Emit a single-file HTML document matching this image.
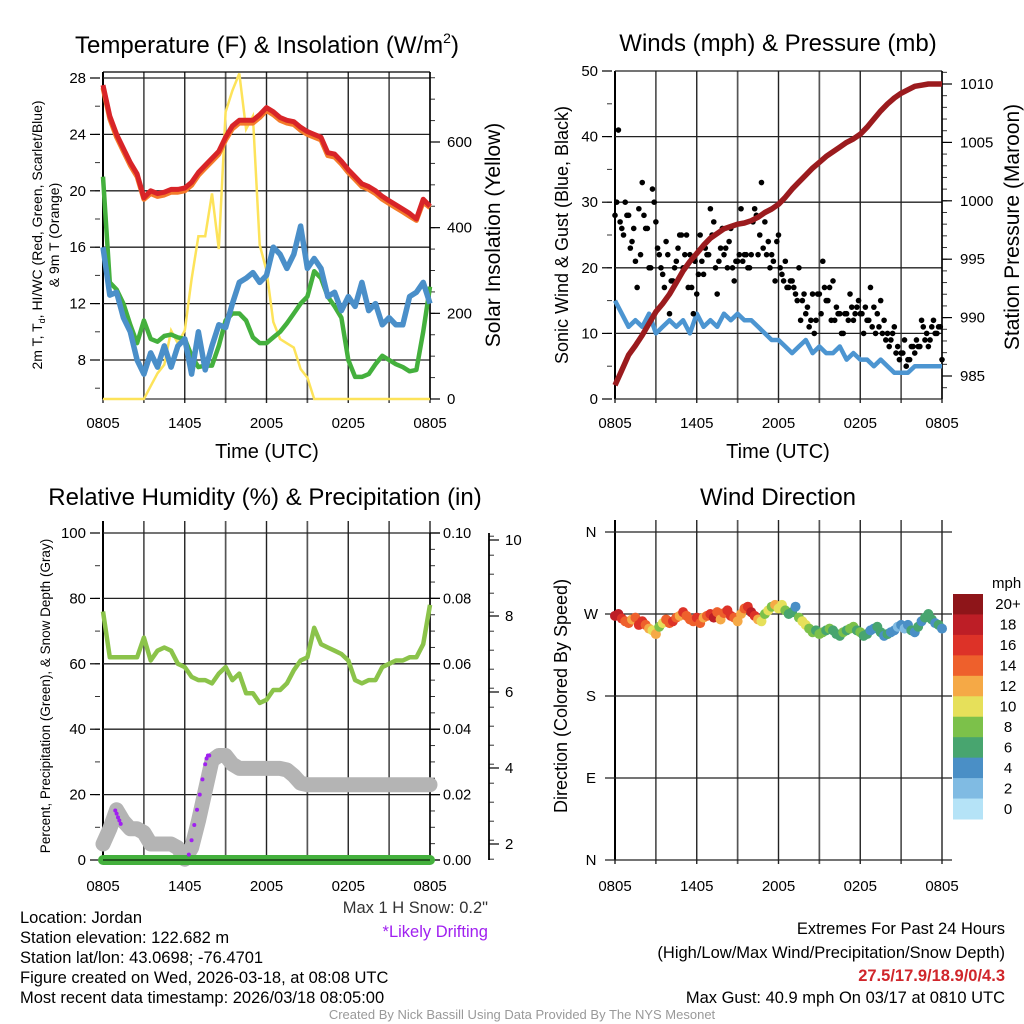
<!DOCTYPE html>
<html><head><meta charset="utf-8"><style>
html,body{margin:0;padding:0;background:#fff;}
svg{display:block;font-family:"Liberation Sans",Arial,sans-serif;}
</style></head><body>
<svg id="fig" width="1024" height="1024" viewBox="0 0 1024 1024" xmlns="http://www.w3.org/2000/svg">
<rect width="1024" height="1024" fill="#fff"/>
<g id="layer"></g>
<!-- titles -->
<text x="267" y="53" font-size="24" text-anchor="middle">Temperature (F) &amp; Insolation (W/m<tspan font-size="14" dy="-10">2</tspan><tspan dy="10">)</tspan></text>
<text x="778" y="51" font-size="24" text-anchor="middle">Winds (mph) &amp; Pressure (mb)</text>
<text x="265" y="505" font-size="24" text-anchor="middle">Relative Humidity (%) &amp; Precipitation (in)</text>
<text x="778" y="505" font-size="24" text-anchor="middle">Wind Direction</text>
<text x="267" y="458" font-size="20" text-anchor="middle">Time (UTC)</text>
<text x="778" y="458" font-size="20" text-anchor="middle">Time (UTC)</text>
<!-- y axis titles -->
<text transform="translate(42,235) rotate(-90)" font-size="14" text-anchor="middle">2m T, T<tspan font-size="9" dy="3">d</tspan><tspan dy="-3">, HI/WC (Red, Green, Scarlet/Blue)</tspan></text>
<text transform="translate(59,235) rotate(-90)" font-size="14" text-anchor="middle">&amp; 9m T (Orange)</text>
<text transform="translate(500,235) rotate(-90)" font-size="21" text-anchor="middle">Solar Insolation (Yellow)</text>
<text transform="translate(568,235) rotate(-90)" font-size="18" text-anchor="middle">Sonic Wind &amp; Gust (Blue, Black)</text>
<text transform="translate(1019,227) rotate(-90)" font-size="21" text-anchor="middle">Station Pressure (Maroon)</text>
<text transform="translate(50,696) rotate(-90)" font-size="13.5" text-anchor="middle">Percent, Precipitation (Green), &amp; Snow Depth (Gray)</text>
<text transform="translate(567,696) rotate(-90)" font-size="18" text-anchor="middle">Direction (Colored By Speed)</text>
<!-- bottom text -->
<g font-size="16.5">
<text x="488" y="913" text-anchor="end" fill="#333">Max 1 H Snow: 0.2"</text>
<text x="488" y="937" text-anchor="end" fill="#a020f0">*Likely Drifting</text>
<text x="20" y="923">Location: Jordan</text>
<text x="20" y="943">Station elevation: 122.682 m</text>
<text x="20" y="963">Station lat/lon: 43.0698; -76.4701</text>
<text x="20" y="983">Figure created on Wed, 2026-03-18, at 08:08 UTC</text>
<text x="20" y="1003">Most recent data timestamp: 2026/03/18 08:05:00</text>
<text x="1005" y="934" text-anchor="end">Extremes For Past 24 Hours</text>
<text x="1005" y="958" text-anchor="end">(High/Low/Max Wind/Precipitation/Snow Depth)</text>
<text x="1005" y="981" text-anchor="end" fill="#d0262b" font-weight="bold">27.5/17.9/18.9/0/4.3</text>
<text x="1005" y="1003" text-anchor="end">Max Gust: 40.9 mph On 03/17 at 0810 UTC</text>
</g>
<text x="522" y="1019" font-size="13" text-anchor="middle" fill="#999">Created By Nick Bassill Using Data Provided By The NYS Mesonet</text>
</svg>
<script>
// ---- data (half-hourly unless noted) ----
const timeLabels=["0805","1405","2005","0205","0805"];
const tempRed=[27.5,25.3,24,23,22,21.2,19.5,20,19.8,19.9,20.1,20.1,20.2,20.6,21.3,21.8,22.3,22.8,23.8,24.6,25,25,25,25.4,25.9,25.6,25.2,25,24.9,24.5,24.2,24,23.8,22.7,22.6,22.1,21.5,21,20.5,20.3,20,19.6,19.3,19,18.7,18.4,18,19.4,18.9];
const tempOrange=[27.3,25.1,23.8,22.8,21.8,21,19.4,19.8,19.6,19.7,19.9,19.9,20,20.4,21.1,21.6,22.1,22.6,23.6,24.4,24.8,24.8,24.8,25.2,25.7,25.4,25,24.8,24.7,24.3,24,23.8,23.6,22.5,22.4,21.9,21.3,20.8,20.3,20.1,19.8,19.4,19.1,18.8,18.5,18.2,17.9,19.2,18.8];
const wcBlue=[16,12.6,12.8,11,10,8,7,8.5,7.5,9,7.5,9,9.5,7,10,7.3,9,10.5,10.3,12,13.5,13.8,14.2,13.5,14,16,15.5,14.5,15.5,17.5,14.5,15.2,14.5,12.5,12.8,11.5,12.5,11.8,13.5,11.5,12,10.5,11,10.5,10.5,12.5,12.8,13.5,12];
const dewGreen=[21,13.5,13,12,10.5,9.2,10.8,9.5,9.3,9.7,9.8,9.6,9.5,8.3,7.5,7.6,7.6,9,10.8,11.3,11.3,10.8,9.6,9.2,9.2,9.6,10,10.6,11.3,12,12.5,14.3,13.8,12.5,11.8,11,8,6.8,6.8,7,7.7,8.3,8,7.7,7.5,7.2,7.3,10,13.2];
const solar=[0,0,0,0,0,0,0,30,60,80,160,130,160,280,380,380,480,350,670,720,760,630,660,360,300,180,140,130,120,70,50,0,0,0,0,0,0,0,0,0,0,0,0,0,0,0,0,0,0];
const windBlue=[15,13,11,12,11,13,10,11,12,11,12,10,13,11,12,11,13,12,13,12,12,11,10,9,9,8,7,8,9,7,8,7,7,8,6,7,6,6,5,6,5,4,4,4,5,5,5,5,5];
const pressure=[984.2,985.5,986.8,987.6,988.5,989.5,990.5,991.2,992,993,994,994.8,995.5,996.2,996.8,997.2,997.6,997.8,998,998.1,998.3,998.6,999,999.3,999.7,1000.3,1001,1001.6,1002.2,1002.8,1003.3,1003.8,1004.2,1004.6,1005,1005.3,1005.7,1006.3,1007,1007.7,1008.3,1008.8,1009.2,1009.5,1009.8,1009.9,1010,1010,1010];
// gusts every 0.25 h
const gustA=[28,41,26,30, 28,24,21,29, 33,26,20,32, 27,22,19,24, 13,18,21,25, 20,25,22,13, 16,25,19,22, 29,27,16,23, 22,20,26,18, 21,29,22,20, 22,29,22,33, 27,24,22,18, 25,19,21,17, 18,16,20,15, 13,11,16,12, 16,21,15,17, 18,14,13,10, 13,16,12,14, 13,10,12,17, 14,13,15,12, 10,9,11,8, 7,9,6,8, 7,8,12,9, 8,11,10,11, 6];
const gustB=[30,27,25,28, 23,26,17,22, 28,26,20,30, 23,20,17,22, 18,20,23,25, 22,17,17,21, 19,21,23,22, 25,20,21,26, 23,24,20,21, 22,21,22,20, 27,28,25,23, 22,20,21,24, 20,18,17,18, 17,15,12,16, 14,12,10,16, 13,17,15,12, 12,13,10,13, 12,14,13,15, 13,14,12,11, 10,11,10,9, 8,10,7,6, 7,5,6,8, 9,8,11,10, 9,12,10,11];
const rhGreen=[76,62,62,62,62,62,68,61,64,65,64,60,59,56,55,55,54,57,59,55,57,51,51,48,49,52,52,54,58,61,62,71,66,65,64,63,61,55,54,55,55,59,60,61,61,62,62,66,78];
const precip=[0,0,0,0,0,0,0,0,0,0,0,0,0,0,0,0,0,0,0,0,0,0,0,0,0,0,0,0,0,0,0,0,0,0,0,0,0,0,0,0,0,0,0,0,0,0,0,0,0];
const snowDepth=[2.0,2.4,2.9,2.6,2.4,2.4,2.3,2.0,2.0,2.0,2.0,1.9,1.6,1.9,2.6,3.4,4.2,4.33,4.33,4.1,3.99,3.99,3.99,3.99,3.99,3.99,3.99,3.95,3.8,3.6,3.56,3.56,3.56,3.56,3.56,3.56,3.56,3.56,3.56,3.56,3.56,3.56,3.56,3.56,3.56,3.56,3.56,3.56,3.56];
const driftTimes=[0.9,1.0,1.1,1.2,1.3, 6.3,6.5,6.7,6.9,7.1,7.3,7.5,7.6,7.7,7.8];
const driftSnow=[2.88,2.8,2.7,2.62,2.53, 1.72,2.1,2.5,2.9,3.3,3.7,4.1,4.25,4.33,4.33];
// wind direction every 0.25 h
const windDir=[268,270,265,262, 260,264,266,258, 262,258,254,252, 248,256,260,264, 260,262,266,268, 272,268,264,262, 266,260,266,268, 270,266,272,264, 271,274,268,266, 262,270,276,278, 272,268,264,262, 270,274,278,280, 276,280,274,270, 272,278,266,262, 258,254,250,252, 248,250,252,254, 252,248,246,250, 252,254,256,252, 250,246,248,252, 254,256,250,246, 248,250,252,256, 258,254,258,252, 250,256,262,266, 270,264,260,258, 254];
const windDirSpeed=[18,17,16,14, 13,12,14,16, 15,13,11,10, 12,8,10,13, 14,15,13,12, 15,14,13,13, 16,14,12,13, 15,17,14,12, 14,16,15,13, 12,12,14,15, 18,16,12,10, 8,10,8,12, 10,9,8,5, 6,4,8,9, 10,8,7,6, 8,7,6,7, 6,5,6,7, 6,8,7,6, 7,6,5,4, 4,6,5,4, 5,4,3,2, 3,2,4,5, 4,5,3,6, 5,6,4,5, 4];
const speedBins=["0","2","4","6","8","10","12","14","16","18","20+"];
const binColors=["#b5e3f7","#80bbe3","#4a8fc6","#48a56f","#7cc14a","#e6e05a","#f5a946","#ee602c","#dd3228","#bd1e26","#8e1519"];

// ---- helpers ----
const NS="http://www.w3.org/2000/svg";
const layer=document.getElementById('layer');
function mk(tag,attrs,parent){const e=document.createElementNS(NS,tag);for(const k in attrs)e.setAttribute(k,attrs[k]);(parent||layer).appendChild(e);return e;}
function lin(d0,d1,r0,r1){return v=>r0+(v-d0)*(r1-r0)/(d1-d0);}
function pathFrom(ts,vs,sx,sy){return vs.map((v,i)=>(i?'L':'M')+sx(ts[i]).toFixed(1)+' '+sy(v).toFixed(1)).join(' ');}
const halfT=rhGreen.map((_,i)=>i*0.5);
const qT=gustA.map((_,i)=>i*0.25);
const qTB=gustB.map((_,i)=>0.125+i*0.25);

function panelFrame(name,x0,x1,y0,y1,labelY){
  const g=mk('g',{});
  
  
  for(let h=0;h<=24;h+=3){
    const x=x0+h/24*(x1-x0);
    const l=mk('line',{x1:x,y1:y0-12,x2:x,y2:y1+4,stroke:(h%6===0)?'#222':'#555','stroke-width':(h%6===0)?1.4:1.7},g);
    
    
  }
  timeLabels.forEach((s,i)=>{
    const t=mk('text',{x:x0+i*6/24*(x1-x0),y:labelY,'font-size':15,'text-anchor':'middle'});
    t.textContent=s;
    
    
  });
  mk('line',{x1:x0,y1:y0-12,x2:x0,y2:y1,stroke:'#000','stroke-width':2},g);
  return g;
}
function yAxis(name,vals,sy,x,side,fmt,xLine,yMinor,minorStep,lo,hi,gridX0,gridX1,fs){
  const g=mk('g',{});
  
  
  if(gridX0!==undefined){vals.forEach(v=>{const l=mk('line',{x1:gridX0,y1:sy(v),x2:gridX1,y2:sy(v),stroke:'#222','stroke-width':1.3},g);});}
  for(let v=lo;v<=hi+1e-9;v+=minorStep){const y=sy(v);mk('line',{x1:xLine,y1:y,x2:xLine+(side<0?-5:5),y2:y,stroke:'#333','stroke-width':1},g);}
  vals.forEach(v=>{const y=sy(v);mk('line',{x1:xLine,y1:y,x2:xLine+(side<0?-10:10),y2:y,stroke:'#000','stroke-width':1.2},g);
    const t=mk('text',{x:x,y:y+5,'font-size':fs||15,'text-anchor':side<0?'end':'start'},g);t.textContent=fmt(v);
    });
  return g;
}

// ===== Panel 1: temperature =====
{
  const x0=103,x1=430;const sx=lin(0,24,x0,x1);
  const sy=lin(8,28,360,78);const ss=lin(0,600,399,142);
  panelFrame('temperature',x0,x1,84,399,428);
  mk('line',{x1:x0,y1:72,x2:x1,y2:72,stroke:'#000','stroke-width':1.3});
  yAxis('temperature-y-axis',[8,12,16,20,24,28],sy,86,-1,v=>v,x0-3,null,2,6,28,x0,x1);
  yAxis('solar-y-axis',[0,200,400,600],ss,447,1,v=>v,x1,null,50,0,750);
  mk('line',{x1:x0,y1:399,x2:x1,y2:399,stroke:'#000','stroke-width':1});
  mk('line',{x1:x1,y1:72,x2:x1,y2:399,stroke:'#000','stroke-width':1.5});
  let p;
  p=mk('path',{d:pathFrom(halfT,solar,sx,ss),fill:'none',stroke:'#fde35a','stroke-width':2.5});
  p=mk('path',{d:pathFrom(halfT,dewGreen,sx,sy),fill:'none',stroke:'#44b03d','stroke-width':4.5,'stroke-linejoin':'round'});
  p=mk('path',{d:pathFrom(halfT,wcBlue,sx,sy),fill:'none',stroke:'#4a8fc9','stroke-width':5.5,'stroke-linejoin':'round'});
  p=mk('path',{d:pathFrom(halfT,tempOrange,sx,sy),fill:'none',stroke:'#f47b2a','stroke-width':5,'stroke-linejoin':'round'});
  p=mk('path',{d:pathFrom(halfT,tempRed,sx,sy),fill:'none',stroke:'#d82428','stroke-width':5,'stroke-linejoin':'round'});
}
// ===== Panel 2: winds =====
{
  const x0=615,x1=942;const sx=lin(0,24,x0,x1);
  const sy=lin(0,50,399,71);const sp=lin(985,1010,376,84);
  panelFrame('winds',x0,x1,83,399,428);
  yAxis('wind-y-axis',[0,10,20,30,40,50],sy,598,-1,v=>v,x0-3,null,5,0,50,x0,x1);
  yAxis('pressure-y-axis',[985,990,995,1000,1005,1010],sp,960,1,v=>v,x1,null,1,984,1011);
  mk('line',{x1:x1,y1:71,x2:x1,y2:399,stroke:'#000','stroke-width':1.5});
  let p=mk('path',{d:pathFrom(halfT,windBlue,sx,sy),fill:'none',stroke:'#4c95d1','stroke-width':4.5,'stroke-linejoin':'round'});
  gustA.forEach((v,i)=>{const c=mk('circle',{cx:sx(qT[i]),cy:sy(v),r:2.8,fill:'#000'});});
  gustB.forEach((v,i)=>{const c=mk('circle',{cx:sx(qTB[i]),cy:sy(v),r:2.8,fill:'#000'});});
  p=mk('path',{d:pathFrom(halfT,pressure,sx,sp),fill:'none',stroke:'#9b1b1e','stroke-width':5.5,'stroke-linejoin':'round'});
}
// ===== Panel 3: humidity =====
{
  const x0=103,x1=430;const sx=lin(0,24,x0,x1);
  const sy=lin(0,100,860,533);const spr=lin(0,0.1,860,533);const ssn=lin(0,10,920,540);
  panelFrame('humidity',x0,x1,533,860,891);
  yAxis('rh-y-axis',[0,20,40,60,80,100],sy,86,-1,v=>v,x0-3,null,10,0,100,x0,x1+10);
  yAxis('precip-y-axis',[0,0.02,0.04,0.06,0.08,0.1],spr,443,1,v=>v.toFixed(2),x1,null,0.005,0,0.1,undefined,undefined,14.5);
  yAxis('snow-y-axis',[2,4,6,8,10],ssn,505,1,v=>v,489,null,0.5,1.6,10.4);
  mk('line',{x1:489,y1:533,x2:489,y2:860,stroke:'#000','stroke-width':1.8});
  mk('line',{x1:x1,y1:533,x2:x1,y2:860,stroke:'#000','stroke-width':1.5});
  let p=mk('path',{d:pathFrom(halfT,snowDepth,sx,ssn),fill:'none',stroke:'#b4b4b4','stroke-width':15,'stroke-linejoin':'round','stroke-linecap':'round'});
  p=mk('path',{d:pathFrom(halfT,precip,sx,spr),fill:'none',stroke:'#44b03d','stroke-width':10,'stroke-linecap':'round'});
  mk('line',{x1:x0,y1:860,x2:x1,y2:860,stroke:'#000','stroke-width':1});
  p=mk('path',{d:pathFrom(halfT,rhGreen,sx,sy),fill:'none',stroke:'#8bc34a','stroke-width':4.5,'stroke-linejoin':'round'});
  driftSnow.forEach((v,i)=>{const c=mk('circle',{cx:sx(driftTimes[i]),cy:ssn(v),r:2,fill:'#a020f0'});});
}
// ===== Panel 4: wind direction =====
{
  const x0=615,x1=942;const sx=lin(0,24,x0,x1);
  const sy=lin(0,360,860,532);
  panelFrame('wind-direction',x0,x1,532,860,891);
  const dirs=[0,90,180,270,360],names=["N","E","S","W","N"];
  dirs.forEach((d,i)=>{const y=sy(d);const l=mk('line',{x1:x0-10,y1:y,x2:x1+10,y2:y,stroke:'#222','stroke-width':1.3});
    const t=mk('text',{x:591,y:y+5,'font-size':15,'text-anchor':'middle'});t.textContent=names[i];});
  windDir.forEach((d,i)=>{const b=Math.min(10,Math.max(0,Math.round(windDirSpeed[i]/2)));
    const c=mk('circle',{cx:sx(qT[i]),cy:sy(d),r:5,fill:binColors[b]});});
  const lg=mk('g',{});
  const t0=mk('text',{x:992,y:588,'font-size':15},lg);t0.textContent='mph';
  const bh=225/11;
  for(let k=10;k>=0;k--){const y=594+(10-k)*bh;
    const r=mk('rect',{x:953,y:y,width:30,height:bh+0.5,fill:binColors[k]},lg);
    const t=mk('text',{x:1008,y:y+bh/2+5,'font-size':15,'text-anchor':'middle'},lg);t.textContent=speedBins[k];}
}
</script>
</body></html>
